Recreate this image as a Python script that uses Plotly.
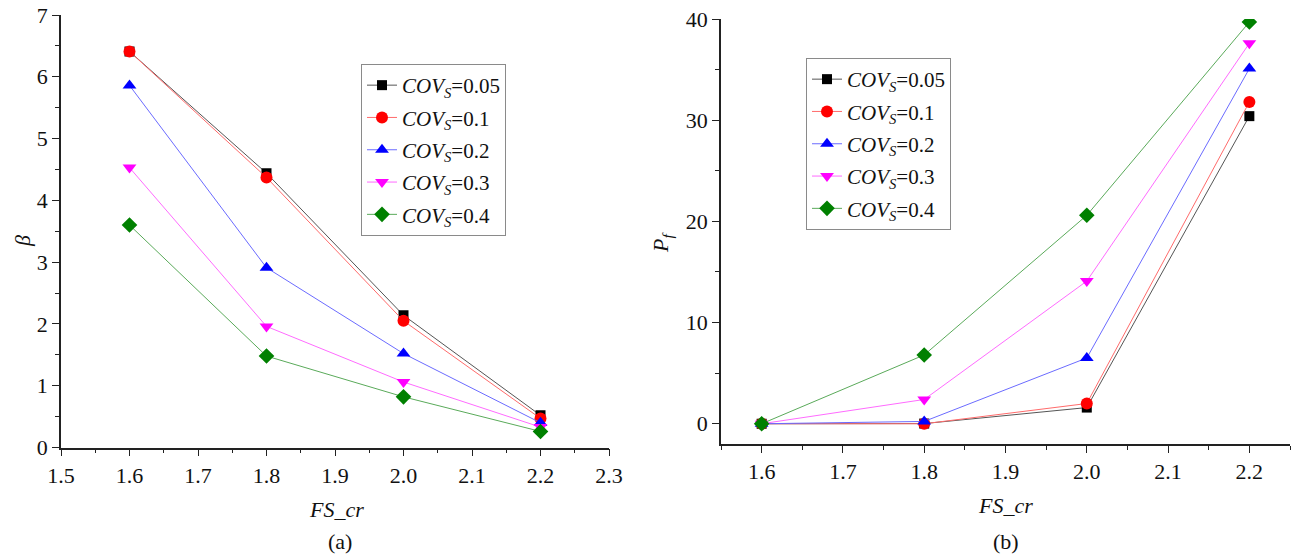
import plotly.graph_objects as go

fs_cr = [1.6, 1.8, 2.0, 2.2]
series_names = ["0.05", "0.1", "0.2", "0.3", "0.4"]

beta_005 = [6.41, 4.44, 2.14, 0.52]
beta_01 = [6.41, 4.37, 2.05, 0.47]
beta_02 = [5.86, 2.91, 1.52, 0.40]
beta_03 = [4.53, 1.96, 1.06, 0.33]
beta_04 = [3.60, 1.48, 0.82, 0.26]

pf_005 = [0.0, 0.02, 1.6, 30.4]
pf_01 = [0.0, 0.0, 2.0, 31.8]
pf_02 = [0.0, 0.23, 6.5, 35.1]
pf_03 = [0.0, 2.4, 14.1, 37.6]
pf_04 = [0.0, 6.8, 20.6, 39.7]

beta_all = [beta_005, beta_01, beta_02, beta_03, beta_04]
pf_all = [pf_005, pf_01, pf_02, pf_03, pf_04]

colors = ["#000000", "#ff0000", "#0000ff", "#ff00ff", "#008000"]
line_colors = ["#555555", "#ff6b6b", "#6b6bff", "#ff6bff", "#5aaa5a"]
symbols = ["square", "circle", "triangle-up", "triangle-down", "diamond"]
sizes = [10, 12, 12, 12, 12]

W, H = 1298, 557
FONT = "Liberation Serif"

fig = go.Figure()

for i in range(5):
    name = "<i>COV<sub>S</sub></i>=" + series_names[i]
    fig.add_trace(go.Scatter(
        x=fs_cr, y=beta_all[i], mode="lines+markers", name=name,
        line=dict(color=line_colors[i], width=1),
        marker=dict(color=colors[i], symbol=symbols[i], size=sizes[i]),
        xaxis="x", yaxis="y", legend="legend", legendgroup="a%d" % i,
    ))
for i in range(5):
    name = "<i>COV<sub>S</sub></i>=" + series_names[i]
    fig.add_trace(go.Scatter(
        x=fs_cr, y=pf_all[i], mode="lines+markers", name=name,
        line=dict(color=line_colors[i], width=1),
        marker=dict(color=colors[i], symbol=symbols[i], size=sizes[i]),
        xaxis="x2", yaxis="y2", legend="legend2", legendgroup="b%d" % i,
    ))

axis_common = dict(
    showline=True, linecolor="#222222", linewidth=1.5, mirror=False,
    showgrid=False, zeroline=False, ticks="outside", ticklen=7,
    tickwidth=1.3, tickcolor="#222222", automargin=False,
    tickfont=dict(family=FONT, size=22, color="#111111"),
)

fig.update_layout(
    width=W, height=H,
    margin=dict(l=0, r=0, t=0, b=0, autoexpand=False),
    paper_bgcolor="white", plot_bgcolor="white",
    font=dict(family=FONT, color="#111111"),
    xaxis=dict(domain=[61 / W, 609 / W], range=[1.5, 2.3], dtick=0.1, tick0=1.5,
               tickformat=".1f", anchor="y",
               minor=dict(dtick=0.05, ticks="outside", ticklen=4, tickcolor="#222222"),
               **axis_common),
    yaxis=dict(domain=[(H - 447.5) / H, (H - 15) / H], range=[0, 7], dtick=1, tick0=0,
               anchor="x",
               minor=dict(dtick=0.5, ticks="outside", ticklen=4, tickcolor="#222222"),
               **axis_common),
    xaxis2=dict(domain=[721 / W, 1290 / W], range=[1.55, 2.25], dtick=0.1, tick0=1.6,
                tickformat=".1f", anchor="y2",
                minor=dict(dtick=0.05, ticks="outside", ticklen=4, tickcolor="#222222"),
                **axis_common),
    yaxis2=dict(domain=[(H - 444) / H, (H - 19) / H], range=[-2, 40], dtick=10, tick0=0,
                anchor="x2",
                minor=dict(dtick=5, ticks="outside", ticklen=4, tickcolor="#222222"),
                **axis_common),
    legend=dict(x=361 / W, y=1 - 64 / H, xanchor="left", yanchor="top",
                bordercolor="#8a8a8a", borderwidth=1, bgcolor="white",
                font=dict(family=FONT, size=21, color="#111111"),
                tracegroupgap=2),
    legend2=dict(x=806 / W, y=1 - 58 / H, xanchor="left", yanchor="top",
                 bordercolor="#8a8a8a", borderwidth=1, bgcolor="white",
                 font=dict(family=FONT, size=21, color="#111111"),
                 tracegroupgap=2),
    showlegend=True,
)

ann_font = dict(family=FONT, size=22, color="#111111")
ann_common = dict(xref="paper", yref="paper", showarrow=False, font=ann_font,
                  xanchor="center", yanchor="middle")
annotations = [
    dict(text="<i>FS_cr</i>", x=336 / W, y=1 - 509 / H, **ann_common),
    dict(text="(a)", x=340 / W, y=1 - 541 / H, **ann_common),
    dict(text="<i>FS_cr</i>", x=1005 / W, y=1 - 505 / H, **ann_common),
    dict(text="(b)", x=1006 / W, y=1 - 541 / H, **ann_common),
    dict(text="<i>β</i>", x=22 / W, y=1 - 241 / H, textangle=-90, **ann_common),
    dict(text="<i>P<sub>f</sub></i>", x=662 / W, y=1 - 243 / H, textangle=-90, **ann_common),
]
fig.update_layout(annotations=annotations)

fig.write_html(
    "out.html",
    config={"displayModeBar": False},
    post_script="document.body.style.margin='0';document.body.style.overflow='hidden';",
)
